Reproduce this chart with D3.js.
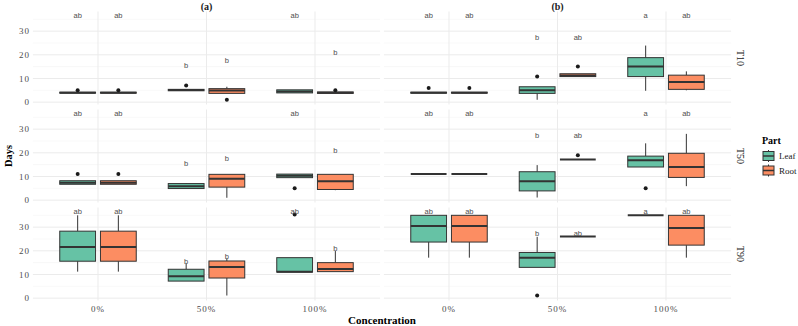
<!DOCTYPE html>
<html>
<head>
<meta charset="utf-8">
<script src="https://cdn.jsdelivr.net/npm/d3@7"></script>
<style>
  body { margin: 0; background: #fff; }
  svg text { font-family: "Liberation Serif", "Times New Roman", serif; }
</style>
</head>
<body>
<div id="chart"></div>
<script>
// Categories
var concentrations = ["0%", "50%", "100%"];
var parts = ["Leaf", "Root"];
var facets = ["(a)", "(b)"];
var times = ["T10", "T50", "T90"];

// Box stats per panel, order: 0% Leaf, 0% Root, 50% Leaf, 50% Root, 100% Leaf, 100% Root
// each: [lower whisker, q1, median, q3, upper whisker, outliers]
var a_T10 = [
  [3.8, 3.8, 4, 4.2, 4.2, [5]],
  [3.8, 3.8, 4, 4.2, 4.2, [5]],
  [4.8, 4.8, 5.1, 5.4, 5.4, [7]],
  [3.7, 3.7, 4.9, 5.7, 6.5, [1]],
  [3.9, 3.9, 4.5, 5.2, 5.2, []],
  [3.6, 3.7, 4, 4.3, 4.3, [5]]
];
var b_T10 = [
  [3.8, 3.8, 4, 4.2, 4.2, [6]],
  [3.8, 3.8, 4, 4.2, 4.2, [6]],
  [1, 3.7, 5, 6.5, 6.5, [10.8]],
  [10.8, 10.8, 11.3, 12, 12, [15.1]],
  [4.8, 10.8, 15.1, 18.8, 23.9, []],
  [5, 5.4, 8.5, 11.4, 13, []]
];
var a_T50 = [
  [6.7, 6.7, 7.3, 8.2, 8.2, [11]],
  [6.7, 6.7, 7.3, 8.2, 8.2, [11]],
  [4.9, 4.9, 5.9, 7, 7.2, []],
  [1, 5.5, 9, 10.9, 10.9, []],
  [9.5, 9.5, 10.3, 11, 11, [5]],
  [4.2, 4.5, 8, 10.9, 10.9, []]
];
var b_T50 = [
  [11, 11, 11, 11, 11, []],
  [11, 11, 11, 11, 11, []],
  [1.1, 3.9, 8, 12, 14.8, []],
  [17.2, 17.2, 17.2, 17.2, 17.2, [19]],
  [14, 14, 16.9, 18.6, 24, [5]],
  [5.9, 9.6, 14, 19.8, 28, []]
];
var a_T90 = [
  [11.2, 15.6, 21.6, 28.3, 35, []],
  [11.2, 15.6, 21.6, 28.3, 35, []],
  [7.2, 7.2, 9.3, 12.2, 14.7, []],
  [1.1, 8.5, 13.2, 15.7, 16.8, []],
  [11, 11, 11.2, 17.1, 17.1, [35.3]],
  [11.2, 11.2, 12.3, 15, 19.9, []]
];
var b_T90 = [
  [17.1, 23.7, 30.5, 35, 35, []],
  [17.1, 23.7, 30.5, 35, 35, []],
  [13, 13, 17.1, 19.3, 25.9, [1.1]],
  [26, 26, 26, 26, 26, []],
  [35, 35, 35, 35, 35, []],
  [17.1, 22.4, 29.6, 35, 35, []]
];

// Significance letters (same in every row) and their heights
var letters_a = ["ab", "ab", "b", "b", "ab", "b"];
var letterY_a = [36.7, 36.7, 15.6, 17.8, 36.7, 21];
var letters_b = ["ab", "ab", "b", "ab", "a", "ab"];
var letterY_b = [36.7, 36.7, 27.3, 27.3, 36.8, 36.8];

var yTicks = [0, 10, 20, 30];
var yMinor = [5, 15, 25, 35];

// lookup tables built from the arrays above
var panelStats = {
  "(a)": { T10: a_T10, T50: a_T50, T90: a_T90 },
  "(b)": { T10: b_T10, T50: b_T50, T90: b_T90 }
};
var panelLetters = { "(a)": [letters_a, letterY_a], "(b)": [letters_b, letterY_b] };

// Layout
var width = 798, height = 326;
var panelX = [[32.9, 380.1], [383.9, 731.1]];
var panelTop = [11.5, 109.5, 207.5];
var panelH = 93;

var color = d3.scaleOrdinal().domain(parts).range(["#66C2A5", "#FC8D62"]);
var ink = "#333333";

var svg = d3.select("#chart").append("svg")
    .attr("width", width)
    .attr("height", height);

var y = d3.scaleLinear().domain([-1, 38.3]);

facets.forEach(function(f, ci) {
  var x = d3.scalePoint()
      .domain(concentrations)
      .range(panelX[ci])
      .padding(0.6);
  var step = x.step();
  var dodge = d3.scalePoint().domain(parts).range([-0.1875 * step, 0.1875 * step]);
  var bw = 0.33 * step;

  // strip on top
  svg.append("text")
      .attr("x", (panelX[ci][0] + panelX[ci][1]) / 2)
      .attr("y", 6)
      .attr("dy", "0.35em")
      .attr("text-anchor", "middle")
      .style("font-size", "10px")
      .style("font-weight", "bold")
      .style("fill", "#1a1a1a")
      .text(f);

  times.forEach(function(t, ri) {
    var top = panelTop[ri];
    y.range([top + panelH, top]);
    var g = svg.append("g");

    // grid
    g.selectAll(".minor").data(yMinor).enter().append("line")
        .attr("x1", panelX[ci][0]).attr("x2", panelX[ci][1])
        .attr("y1", function(d) { return y(d); })
        .attr("y2", function(d) { return y(d); })
        .style("stroke", "#f3f3f3").style("stroke-width", 0.6);
    g.selectAll(".major").data(yTicks).enter().append("line")
        .attr("x1", panelX[ci][0]).attr("x2", panelX[ci][1])
        .attr("y1", function(d) { return y(d); })
        .attr("y2", function(d) { return y(d); })
        .style("stroke", "#ebebeb").style("stroke-width", 1);
    g.selectAll(".vmajor").data(concentrations).enter().append("line")
        .attr("x1", function(d) { return x(d); })
        .attr("x2", function(d) { return x(d); })
        .attr("y1", top).attr("y2", top + panelH)
        .style("stroke", "#ebebeb").style("stroke-width", 1);

    // boxes
    var boxes = panelStats[f][t].map(function(s, i) {
      return {
        conc: concentrations[Math.floor(i / 2)],
        part: parts[i % 2],
        lo: s[0], q1: s[1], med: s[2], q3: s[3], hi: s[4], out: s[5],
        letter: panelLetters[f][0][i],
        ly: panelLetters[f][1][i]
      };
    });
    var cx = function(d) { return x(d.conc) + dodge(d.part); };

    var bg = g.selectAll(".box").data(boxes).enter().append("g");
    bg.append("line")
        .attr("x1", cx).attr("x2", cx)
        .attr("y1", function(d) { return y(d.hi); })
        .attr("y2", function(d) { return y(d.q3); })
        .style("stroke", ink).style("stroke-width", 1);
    bg.append("line")
        .attr("x1", cx).attr("x2", cx)
        .attr("y1", function(d) { return y(d.q1); })
        .attr("y2", function(d) { return y(d.lo); })
        .style("stroke", ink).style("stroke-width", 1);
    bg.append("rect")
        .attr("x", function(d) { return cx(d) - bw / 2; })
        .attr("width", bw)
        .attr("y", function(d) { return y(d.q3); })
        .attr("height", function(d) { return y(d.q1) - y(d.q3); })
        .style("fill", function(d) { return color(d.part); })
        .style("stroke", ink).style("stroke-width", 1);
    bg.append("line")
        .attr("x1", function(d) { return cx(d) - bw / 2; })
        .attr("x2", function(d) { return cx(d) + bw / 2; })
        .attr("y1", function(d) { return y(d.med); })
        .attr("y2", function(d) { return y(d.med); })
        .style("stroke", ink).style("stroke-width", 2);
    bg.each(function(d) {
      d3.select(this).selectAll("circle").data(d.out).enter().append("circle")
          .attr("cx", cx(d))
          .attr("cy", function(o) { return y(o); })
          .attr("r", 2)
          .style("fill", "#1a1a1a");
    });
    bg.append("text")
        .attr("x", cx)
        .attr("y", function(d) { return y(d.ly); })
        .attr("dy", "0.35em")
        .attr("text-anchor", "middle")
        .style("font-family", "'Liberation Sans', Arial, sans-serif")
        .style("font-size", "7.5px")
        .style("fill", "#4d4d4d")
        .text(function(d) { return d.letter; });

    // y tick labels on left column
    if (ci === 0) {
      g.selectAll(".ytick").data(yTicks).enter().append("text")
          .attr("x", 30)
          .attr("y", function(d) { return y(d); })
          .attr("dy", "0.35em")
          .attr("text-anchor", "end")
          .style("font-size", "9px")
          .style("letter-spacing", "1px")
          .style("fill", "#4d4d4d")
          .text(function(d) { return d; });
    }
    // x tick labels on bottom row
    if (ri === times.length - 1) {
      g.selectAll(".xtick").data(concentrations).enter().append("text")
          .attr("x", function(d) { return x(d); })
          .attr("y", 309)
          .attr("dy", "0.35em")
          .attr("text-anchor", "middle")
          .style("font-size", "9px")
          .style("letter-spacing", "1px")
          .style("fill", "#4d4d4d")
          .text(function(d) { return d; });
    }
    // right strips
    if (ci === facets.length - 1) {
      svg.append("text")
          .attr("transform", "translate(740," + (top + panelH / 2) + ") rotate(90)")
          .attr("dy", "0.35em")
          .attr("text-anchor", "middle")
          .style("font-size", "10px")
          .style("fill", "#1a1a1a")
          .text(t);
    }
  });
});

// axis titles
svg.append("text")
    .attr("transform", "translate(8," + (panelTop[0] + (panelTop[2] + panelH - panelTop[0]) / 2) + ") rotate(-90)")
    .attr("dy", "0.35em")
    .attr("text-anchor", "middle")
    .style("font-size", "10.5px")
    .style("font-weight", "bold")
    .text("Days");
svg.append("text")
    .attr("x", (panelX[0][0] + panelX[1][1]) / 2)
    .attr("y", 320)
    .attr("dy", "0.35em")
    .attr("text-anchor", "middle")
    .style("font-size", "11px")
    .style("font-weight", "bold")
    .text("Concentration");

// legend
var legend = svg.append("g").attr("transform", "translate(763,0)");
legend.append("text")
    .attr("x", -1).attr("y", 140)
    .attr("dy", "0.35em")
    .style("font-size", "10px")
    .style("font-weight", "bold")
    .text("Part");
var key = legend.selectAll(".key").data(parts).enter().append("g")
    .attr("transform", function(d, i) { return "translate(0," + (151.5 + i * 14.5) + ")"; });
key.append("line")
    .attr("x1", 5.5).attr("x2", 5.5).attr("y1", -1.5).attr("y2", 10.5)
    .style("stroke", ink).style("stroke-width", 1);
key.append("rect")
    .attr("width", 11).attr("height", 9)
    .style("fill", function(d) { return color(d); })
    .style("stroke", ink).style("stroke-width", 1);
key.append("line")
    .attr("x1", 0).attr("x2", 11).attr("y1", 4.5).attr("y2", 4.5)
    .style("stroke", ink).style("stroke-width", 1.5);
key.append("text")
    .attr("x", 16).attr("y", 4.5)
    .attr("dy", "0.35em")
    .style("font-size", "9px")
    .style("fill", "#1a1a1a")
    .text(function(d) { return d; });
</script>
</body>
</html>
